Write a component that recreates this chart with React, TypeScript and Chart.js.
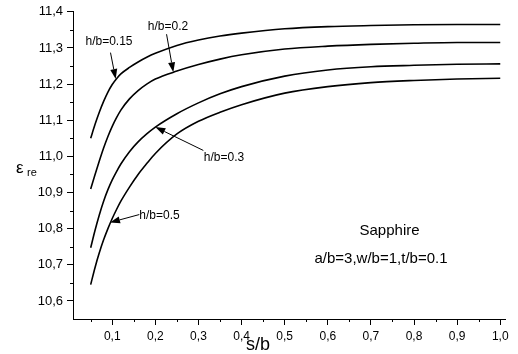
import React, { useEffect, useRef } from "react";
import { Chart, registerables } from "chart.js";

Chart.register(...registerables);

// s/b sample positions
const sb = [0.05, 0.06, 0.07, 0.08, 0.09, 0.1, 0.11, 0.12, 0.14, 0.16, 0.18, 0.2, 0.25, 0.3, 0.35, 0.4, 0.5, 0.6, 0.7, 0.8, 0.9, 1.0];

// effective permittivity for each h/b
const hb015 = [11.050, 11.088, 11.122, 11.152, 11.178, 11.199, 11.215, 11.228, 11.246, 11.261, 11.274, 11.285, 11.307, 11.322, 11.333, 11.341, 11.353, 11.359, 11.362, 11.364, 11.365, 11.365];
const hb02 = [10.910, 10.949, 10.987, 11.023, 11.055, 11.083, 11.107, 11.128, 11.159, 11.182, 11.200, 11.214, 11.236, 11.254, 11.269, 11.281, 11.297, 11.305, 11.310, 11.313, 11.315, 11.315];
const hb03 = [10.747, 10.795, 10.838, 10.876, 10.908, 10.935, 10.958, 10.979, 11.013, 11.040, 11.062, 11.081, 11.118, 11.148, 11.173, 11.193, 11.222, 11.239, 11.248, 11.252, 11.255, 11.256];
const hb05 = [10.645, 10.692, 10.733, 10.769, 10.800, 10.828, 10.853, 10.876, 10.915, 10.950, 10.980, 11.008, 11.062, 11.097, 11.122, 11.143, 11.175, 11.193, 11.204, 11.210, 11.214, 11.216];

const seriesLabels = ["h/b=0.15", "h/b=0.2", "h/b=0.3", "h/b=0.5"];

const xTicks = [0.1, 0.2, 0.3, 0.4, 0.5, 0.6, 0.7, 0.8, 0.9, 1.0];
const xMinor = [0.05, 0.15, 0.25, 0.35, 0.45, 0.55, 0.65, 0.75, 0.85, 0.95];
const yTicks = [10.6, 10.7, 10.8, 10.9, 11.0, 11.1, 11.2, 11.3, 11.4];
const yMinor = [10.65, 10.75, 10.85, 10.95, 11.05, 11.15, 11.25, 11.35];

// annotation labels
const labelPos = [
  { text: "h/b=0.15", s: 0.0925, v: 11.317, align: "center" },
  { text: "h/b=0.2", s: 0.2294, v: 11.359, align: "center" },
  { text: "h/b=0.3", s: 0.3593, v: 10.997, align: "center" },
  { text: "h/b=0.5", s: 0.1628, v: 10.837, align: "left" },
];
// arrows: from (s0,v0) to tip (s1,v1)
const arrows = [
  { s0: 0.096, v0: 11.287, s1: 0.108, v1: 11.214 },
  { s0: 0.226, v0: 11.338, s1: 0.2417, v1: 11.2325 },
  { s0: 0.3113, v0: 11.0164, s1: 0.2, v1: 11.081 },
  { s0: 0.1628, v0: 10.839, s1: 0.0948, v1: 10.817 },
];
const noteLines = [
  { text: "Sapphire", s: 0.7432, v: 10.793 },
  { text: "a/b=3,w/b=1,t/b=0.1", s: 0.7234, v: 10.717 },
];

const FONT = "'Liberation Sans', Arial, Helvetica, sans-serif";

const fmt = (v: number) => v.toFixed(1).replace(".", ",");

const overlay = {
  id: "overlay",
  afterDraw(chart: any) {
    const ctx = chart.ctx;
    const xs = chart.scales.x;
    const ys = chart.scales.y;
    const area = chart.chartArea;
    ctx.save();
    ctx.strokeStyle = "#000";
    ctx.fillStyle = "#000";
    ctx.lineWidth = 1;
    // minor ticks
    ctx.beginPath();
    xMinor.forEach((s) => {
      const px = Math.round(xs.getPixelForValue(s)) + 0.5;
      ctx.moveTo(px, area.bottom);
      ctx.lineTo(px, area.bottom + 3);
    });
    yMinor.forEach((v) => {
      const py = Math.round(ys.getPixelForValue(v)) + 0.5;
      ctx.moveTo(area.left - 3, py);
      ctx.lineTo(area.left, py);
    });
    ctx.stroke();

    // arrows
    arrows.forEach((a) => {
      const x0 = xs.getPixelForValue(a.s0);
      const y0 = ys.getPixelForValue(a.v0);
      const x1 = xs.getPixelForValue(a.s1);
      const y1 = ys.getPixelForValue(a.v1);
      const ang = Math.atan2(y1 - y0, x1 - x0);
      const len = 10;
      const half = 3.5;
      const bx = x1 - len * Math.cos(ang);
      const by = y1 - len * Math.sin(ang);
      ctx.beginPath();
      ctx.moveTo(x0, y0);
      ctx.lineTo(bx, by);
      ctx.stroke();
      ctx.beginPath();
      ctx.moveTo(x1, y1);
      ctx.lineTo(bx + half * Math.sin(ang), by - half * Math.cos(ang));
      ctx.lineTo(bx - half * Math.sin(ang), by + half * Math.cos(ang));
      ctx.closePath();
      ctx.fill();
    });

    // series labels
    ctx.font = `12px ${FONT}`;
    ctx.textBaseline = "middle";
    labelPos.forEach((l) => {
      ctx.textAlign = l.align as CanvasTextAlign;
      ctx.fillText(l.text, xs.getPixelForValue(l.s), ys.getPixelForValue(l.v));
    });

    // notes
    ctx.font = `15px ${FONT}`;
    ctx.textAlign = "center";
    noteLines.forEach((n) => {
      ctx.fillText(n.text, xs.getPixelForValue(n.s), ys.getPixelForValue(n.v));
    });

    // x axis title
    ctx.font = `18px ${FONT}`;
    ctx.textAlign = "center";
    ctx.textBaseline = "alphabetic";
    ctx.fillText("s/b", xs.getPixelForValue(0.438), area.bottom + 31);

    // y axis title epsilon_re
    const ey = ys.getPixelForValue(10.955);
    ctx.font = `17px ${FONT}`;
    ctx.textAlign = "left";
    ctx.fillText("\u03b5", 16, ey);
    ctx.font = `11px ${FONT}`;
    ctx.fillText("re", 27, ey + 3);
    ctx.restore();
  },
};

export default function App() {
  const ref = useRef<HTMLCanvasElement>(null);
  useEffect(() => {
    if (!ref.current) return;
    const mk = (vals: number[]) => sb.map((s, i) => ({ x: s, y: vals[i] }));
    const chart = new Chart(ref.current, {
      type: "line",
      data: {
        datasets: [hb015, hb02, hb03, hb05].map((vals, i) => ({
          label: seriesLabels[i],
          data: mk(vals),
          borderColor: "#000",
          borderWidth: 1.6,
          pointRadius: 0,
          fill: false,
          cubicInterpolationMode: "monotone" as const,
        })),
      },
      options: {
        responsive: false,
        animation: false,
        events: [],
        layout: { padding: { top: 11, right: 13, left: 0, bottom: 0 } },
        plugins: { legend: { display: false }, tooltip: { enabled: false }, title: { display: false } },
        scales: {
          x: {
            type: "linear",
            min: 0.009,
            max: 1.011,
            afterBuildTicks: (scale: any) => {
              scale.ticks = xTicks.map((v) => ({ value: v }));
            },
            afterFit: (scale: any) => {
              scale.height = 35;
            },
            ticks: {
              callback: (v: any) => fmt(Number(v)),
              font: { size: 12, family: FONT },
              color: "#000",
              padding: 4,
              maxRotation: 0,
              autoSkip: false,
            },
            grid: { drawOnChartArea: false, drawTicks: true, tickLength: 6, color: "#000", tickWidth: 1 },
            border: { display: true, color: "#000", width: 1 },
          },
          y: {
            type: "linear",
            min: 10.55,
            max: 11.4,
            afterBuildTicks: (scale: any) => {
              scale.ticks = yTicks.map((v) => ({ value: v }));
            },
            afterFit: (scale: any) => {
              scale.width = 73;
            },
            ticks: {
              callback: (v: any) => fmt(Number(v)),
              font: { size: 13, family: FONT },
              color: "#000",
              padding: 4,
              autoSkip: false,
            },
            grid: { drawOnChartArea: false, drawTicks: true, tickLength: 6, color: "#000", tickWidth: 1 },
            border: { display: true, color: "#000", width: 1 },
          },
        },
      },
      plugins: [overlay],
    });
    return () => chart.destroy();
  }, []);
  return (
    <div style={{ position: "absolute", left: 0, top: 0, width: 518, height: 354, background: "#fff" }}>
      <canvas ref={ref} width={518} height={354} />
    </div>
  );
}
